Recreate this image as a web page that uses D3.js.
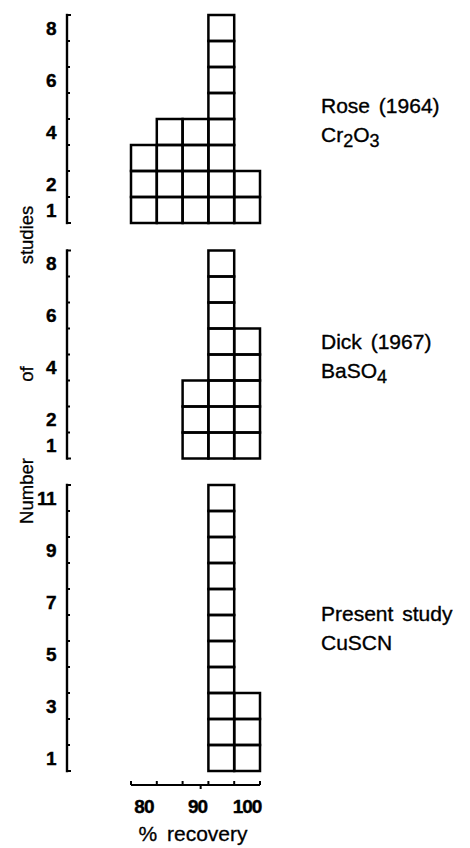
<!DOCTYPE html>
<html><head><meta charset="utf-8">
<script src="https://cdn.jsdelivr.net/npm/d3@7"></script>
<style>
html,body{margin:0;padding:0;background:#fff;}
svg{display:block;}
text{font-family:"Liberation Sans",Arial,Helvetica,sans-serif;fill:#000;}
</style></head>
<body>
<svg id="chart" width="470" height="848"></svg>
<script>
// ---- data ----
const bins = [80, 85, 90, 95, 100];           // % recovery bin centres
const roseCounts = [3, 4, 4, 8, 2];           // Rose (1964) Cr2O3
const dickCounts = [0, 0, 3, 8, 5];           // Dick (1967) BaSO4
const presentCounts = [0, 0, 0, 11, 3];       // Present study CuSCN
const roseTicks = [1, 2, 4, 6, 8];
const dickTicks = [1, 2, 4, 6, 8];
const presentTicks = [1, 3, 5, 7, 9, 11];
const xTickLabels = [80, 90, 100];
const binWidth = 5;
const roseLabel = ["Rose (1964)", [["Cr",0],["2",1],["O",0],["3",1]]];
const dickLabel = ["Dick (1967)", [["BaSO",0],["4",1]]];
const presentLabel = ["Present  study", [["CuSCN",0]]];

// ---- layout ----
const svg = d3.select("#chart");
const unit = 26;
const axisX = 67;
const x = d3.scaleLinear()
  .domain([bins[0] - binWidth/2, bins[bins.length-1] + binWidth/2])
  .range([131, 260]);

const panels = [
  {counts: roseCounts, ticks: roseTicks, max: 8, base: 223, label: roseLabel, ly: 112.5},
  {counts: dickCounts, ticks: dickTicks, max: 8, base: 458.5, label: dickLabel, ly: 349},
  {counts: presentCounts, ticks: presentTicks, max: 11, base: 771, label: presentLabel, ly: 621}
];

panels.forEach(p => {
  const y = d3.scaleLinear().domain([0, p.max]).range([p.base, p.base - p.max*unit]);
  const g = svg.append("g");
  g.append("line").attr("x1", axisX).attr("x2", axisX)
    .attr("y1", y(0)).attr("y2", y(p.max))
    .attr("stroke", "#000").attr("stroke-width", 2.4).attr("stroke-linecap","square");
  g.selectAll("line.tk").data(d3.range(0, p.max + 1)).join("line")
    .attr("class","tk")
    .attr("x1", axisX).attr("x2", d => (d === 0 || d === p.max) ? axisX + 4 : axisX + 3)
    .attr("y1", d => y(d)).attr("y2", d => y(d))
    .attr("stroke", "#000").attr("stroke-width", 2);
  g.selectAll("text.tl").data(p.ticks).join("text")
    .attr("class","tl")
    .attr("x", 56).attr("y", d => y(d - 0.5))
    .attr("dy", "0.36em")
    .attr("text-anchor", "end")
    .attr("font-size", 19).attr("font-weight", "bold")
    .attr("stroke", "#000").attr("stroke-width", 0.4)
    .attr("letter-spacing", "-0.5px")
    .text(d => d);
  const cells = [];
  bins.forEach((b, i) => {
    for (let k = 0; k < p.counts[i]; k++) cells.push({b, k});
  });
  g.selectAll("rect.cell").data(cells).join("rect")
    .attr("class","cell")
    .attr("x", d => x(d.b - binWidth/2))
    .attr("width", d => x(d.b + binWidth/2) - x(d.b - binWidth/2))
    .attr("y", d => y(d.k + 1))
    .attr("height", d => y(d.k) - y(d.k + 1))
    .attr("fill", "none").attr("stroke", "#000").attr("stroke-width", 2.5);
  const lx = 321;
  g.append("text").attr("x", lx).attr("y", p.ly)
    .attr("font-size", 21).attr("word-spacing", "3px")
    .attr("stroke", "#000").attr("stroke-width", 0.35)
    .text(p.label[0]);
  const t2 = g.append("text").attr("x", lx).attr("y", p.ly + 29).attr("font-size", 21)
    .attr("stroke", "#000").attr("stroke-width", 0.35);
  p.label[1].forEach(([s, sub]) => {
    t2.append("tspan").attr("font-size", sub ? 18 : 21)
      .attr("dy", sub ? 5 : (t2.selectAll("tspan").size() > 1 ? -5 : 0))
      .text(s);
  });
});

// x axis
const xAxisY = 785;
svg.append("line").attr("x1", x.range()[0]).attr("x2", x.range()[1])
  .attr("y1", xAxisY).attr("y2", xAxisY).attr("stroke", "#000").attr("stroke-width", 2);
const edges = bins.map(b => b - binWidth/2).concat([bins[bins.length-1] + binWidth/2]);
svg.selectAll("line.xt").data(edges).join("line").attr("class","xt")
  .attr("x1", d => x(d)).attr("x2", d => x(d))
  .attr("y1", xAxisY).attr("y2", xAxisY - 4)
  .attr("stroke", "#000").attr("stroke-width", 2);
svg.append("line").attr("x1", x(91)).attr("x2", x(91))
  .attr("y1", xAxisY).attr("y2", xAxisY + 4).attr("stroke", "#000").attr("stroke-width", 2);
svg.selectAll("text.xl").data(xTickLabels).join("text").attr("class","xl")
  .attr("x", d => x(d) + (d === 90 ? 2 : 0)).attr("y", 813)
  .attr("text-anchor", "middle").attr("font-size", 19).attr("font-weight", "bold")
  .attr("stroke", "#000").attr("stroke-width", 0.4)
  .attr("letter-spacing", "-1px")
  .text(d => d);
svg.append("text").attr("x", 193).attr("y", 841).attr("text-anchor", "middle")
  .attr("font-size", 21).attr("word-spacing", "4px")
  .attr("stroke", "#000").attr("stroke-width", 0.3)
  .text("% recovery");

// y title (spread words)
[["studies", 235], ["of", 374], ["Number", 491]].forEach(([w, cy]) => {
  svg.append("text").attr("transform", `translate(33,${cy}) rotate(-90)`)
    .attr("text-anchor", "middle").attr("font-size", 18.5)
    .attr("stroke", "#000").attr("stroke-width", 0.3)
    .text(w);
});
</script>
</body></html>
